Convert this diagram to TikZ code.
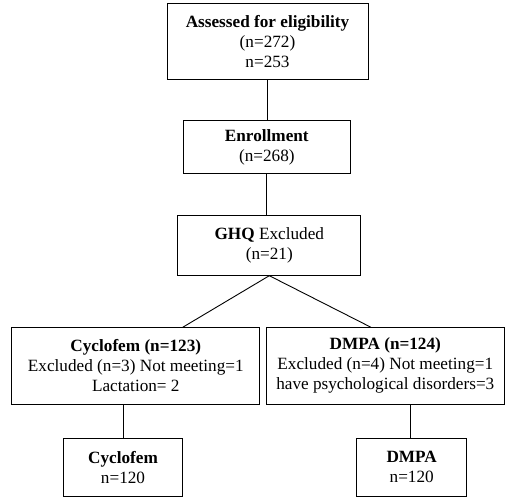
\documentclass[tikz,border=0pt]{standalone}
\usepackage{fontspec}
\setmainfont{Liberation Serif}
\begin{document}
\begin{tikzpicture}[x=1pt,y=-1pt,
  box/.style={draw,line width=0.9pt,rectangle,inner sep=0pt,align=center,
    font=\fontsize{17.2}{20}\selectfont},
  conn/.style={line width=0.9pt}]
\useasboundingbox (0,0) rectangle (526,502);
\node[box,minimum width=201pt,minimum height=76pt] (b1) at (267.5,41.3) {\textbf{Assessed for eligibility}\\(n=272)\\n=253};
\node[box,minimum width=167pt,minimum height=53pt] (b2) at (266.8,147.4) {\textbf{Enrollment}\\(n=268)};
\node[box,minimum width=183pt,minimum height=59.5pt] (b3) at (269.3,245.5) {\textbf{GHQ} Excluded\\(n=21)};
\node[box,minimum width=248pt,minimum height=77pt] (b4) at (135.8,365.8) {\textbf{Cyclofem (n=123)}\\Excluded (n=3) Not meeting=1\\Lactation= 2};
\node[box,minimum width=237.5pt,minimum height=77pt] (b5) at (385.3,365.8) {\textbf{DMPA (n=124)}\\Excluded (n=4) Not meeting=1\\have psychological disorders=3};
\node[box,minimum width=119.5pt,minimum height=57.5pt] (b6) at (123,467.2) {\textbf{Cyclofem}\\n=120};
\node[box,minimum width=110pt,minimum height=57.5pt] (b7) at (411.7,467.2) {\textbf{DMPA}\\n=120};
\coordinate (t4) at (182.7,327.3);
\coordinate (t5) at (371,327.3);
\draw[conn] (b1.south) -- (b1.south |- b2.north);
\draw[conn] (b2.south) -- (b2.south |- b3.north);
\draw[conn] (b3.south) -- (t4);
\draw[conn] (b3.south) -- (t5);
\draw[conn] (b4.south -| b6.north) -- (b6.north);
\draw[conn] (b5.south -| 410.3,0) -- (b7.north -| 410.3,0);
\end{tikzpicture}
\end{document}
